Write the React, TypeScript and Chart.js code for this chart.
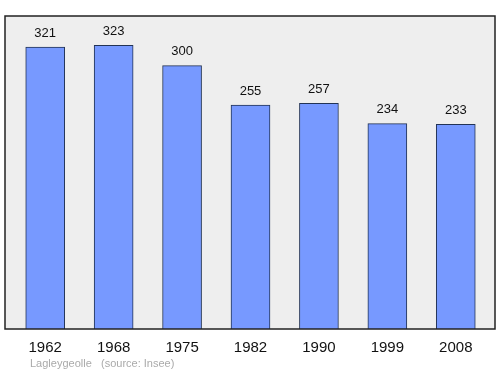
import React, { useEffect, useRef } from "react";
import { Chart, registerables } from "chart.js";

Chart.register(...registerables);

const years = ["1962", "1968", "1975", "1982", "1990", "1999", "2008"];
const population = [321, 323, 300, 255, 257, 234, 233];
const footerName = "Lagleygeolle";
const footerSource = "(source: Insee)";

export default function App() {
  const ref = useRef<HTMLCanvasElement>(null);
  useEffect(() => {
    const bgPlugin = {
      id: "bgFrame",
      beforeDraw(chart: any) {
        const { ctx, chartArea } = chart;
        ctx.save();
        ctx.fillStyle = "#ffffff";
        ctx.fillRect(0, 0, chart.width, chart.height);
        ctx.fillStyle = "#eeeeee";
        ctx.fillRect(5, chartArea.top, 490, chartArea.bottom - chartArea.top);
        ctx.restore();
      },
      afterDraw(chart: any) {
        const { ctx, chartArea } = chart;
        ctx.save();
        ctx.strokeStyle = "#222222";
        ctx.lineWidth = 1.5;
        ctx.strokeRect(5, chartArea.top, 490, chartArea.bottom - chartArea.top);
        ctx.font = "11px 'Liberation Sans', Arial, sans-serif";
        ctx.fillStyle = "#aaaaaa";
        ctx.textBaseline = "middle";
        ctx.textAlign = "left";
        ctx.fillText(footerName, 30, 364);
        ctx.fillText(footerSource, 101, 364);
        ctx.restore();
      },
      afterDatasetsDraw(chart: any) {
        const { ctx } = chart;
        const meta = chart.getDatasetMeta(0);
        ctx.save();
        ctx.font = "13px 'Liberation Sans', Arial, sans-serif";
        ctx.fillStyle = "#111111";
        ctx.textAlign = "center";
        ctx.textBaseline = "middle";
        meta.data.forEach((bar: any, i: number) => {
          ctx.fillText(String(population[i]), bar.x, bar.y - 14);
        });
        ctx.restore();
      },
    };
    const chart = new Chart(ref.current!, {
      type: "bar",
      data: {
        labels: years,
        datasets: [
          {
            data: population,
            backgroundColor: "#7799ff",
            borderColor: "#223355",
            borderWidth: 1,
            barThickness: 39,
          },
        ],
      },
      options: {
        responsive: false,
        animation: false,
        layout: { padding: { left: 11, right: 10, top: 16, bottom: 0 } },
        plugins: { legend: { display: false }, tooltip: { enabled: false } },
        scales: {
          x: {
            grid: { display: false, drawTicks: false },
            border: { display: false },
            ticks: {
              padding: 10,
              color: "#111111",
              font: { size: 15, family: "'Liberation Sans', Arial, sans-serif" },
            },
            afterFit(scale: any) {
              scale.height = 45;
            },
          },
          y: {
            display: false,
            min: 0,
            max: 356.5,
          },
        },
      },
      plugins: [bgPlugin],
    });
    return () => chart.destroy();
  }, []);
  return (
    <div style={{ position: "fixed", left: 0, top: 0, width: 500, height: 374 }}>
      <canvas ref={ref} width={500} height={374} style={{ width: 500, height: 374 }} />
    </div>
  );
}
